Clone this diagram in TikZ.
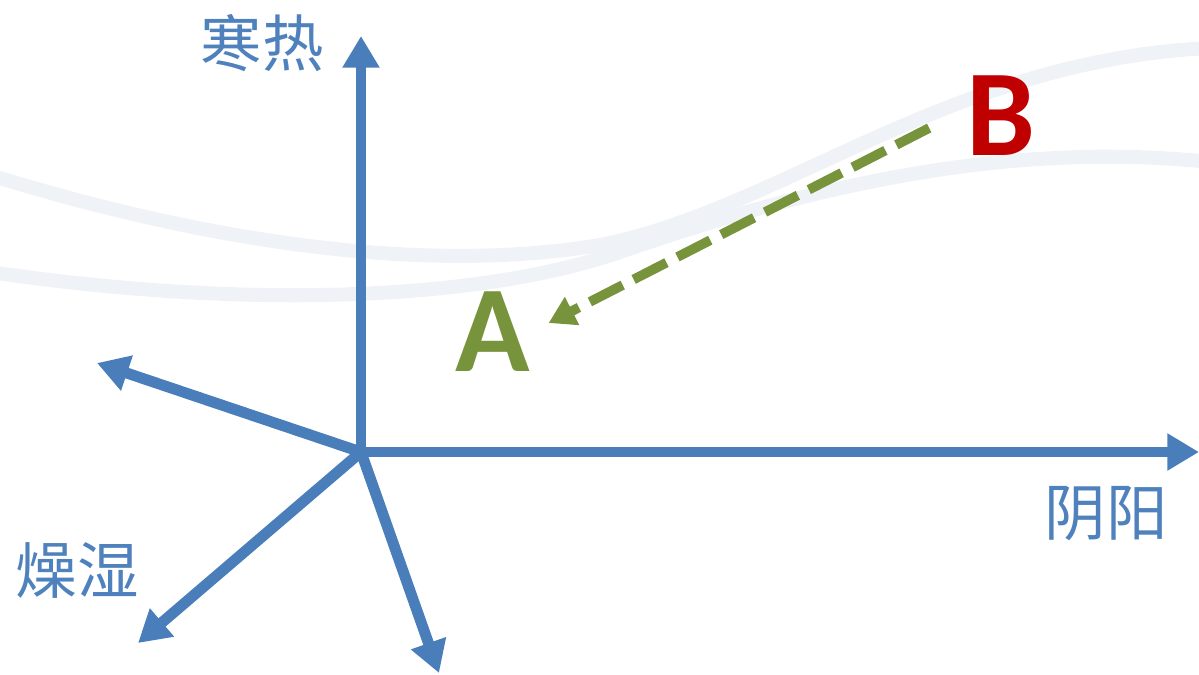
\documentclass[tikz,border=0pt]{standalone}
\usepackage{fontspec}
\setmainfont{Carlito}
\newfontfamily\cjk{Noto Sans CJK SC}
\usetikzlibrary{positioning,arrows.meta}
\definecolor{axisblue}{HTML}{4A7EBB}
\definecolor{labelblue}{HTML}{4F81BD}
\definecolor{pointgreen}{HTML}{77933C}
\definecolor{pointred}{HTML}{C00000}
\definecolor{swoosh}{HTML}{EFF3F7}

\begin{document}
\begin{tikzpicture}[x=0.02cm,y=-0.02cm,
    axis/.style={draw=axisblue,line width=6.2pt,line cap=round,-{Triangle[length=18pt,width=20pt]}},
    axislabel/.style={text=labelblue,font=\cjk\fontsize{35}{35}\selectfont,inner sep=0pt},
    point/.style={font=\bfseries\fontsize{70}{70}\selectfont,inner sep=0pt},
    move/.style={draw=pointgreen,line width=5.5pt,dash pattern=on 21pt off 7pt,-{Triangle[length=15pt,width=17pt]}},
    band/.style={draw=swoosh,line width=8pt,line cap=round}]
  \useasboundingbox (0,0) rectangle (1199,674);
  % faint background bands
  \draw[band] (-10,175) .. controls (200,240) and (420,275) .. (600,245)
    .. controls (780,210) and (950,60) .. (1210,48);
  \draw[band] (-10,272) .. controls (250,310) and (480,300) .. (620,252)
    .. controls (800,190) and (1000,140) .. (1210,162);

  % axes
  \coordinate (o) at (361,452);
  \coordinate (hot) at (361,36);
  \coordinate (yang) at (1199,452);
  \coordinate (dry) at (97,363);
  \coordinate (wet) at (138,643);
  \coordinate (down) at (439,673);
  \draw[axis] (o) -- (hot);
  \draw[axis] (o) -- (yang);
  \draw[axis] (o) -- (dry);
  \draw[axis] (o) -- (wet);
  \draw[axis] (o) -- (down);

  \node[axislabel] (hanre) at (262,43) {寒热};
  \node[axislabel] (yinyang) at (1106,513) {阴阳};
  \node[axislabel] (zaoshi) at (77,570) {燥湿};

  % points
  \node[point,text=pointgreen] (a) at (493,332) {A};
  \node[point,text=pointred] (b) at (1001,116) {B};
  \draw[move] ([shift={(-37,12)}]b.west) -- ([shift={(18,-9)}]a.east);
\end{tikzpicture}
\end{document}
